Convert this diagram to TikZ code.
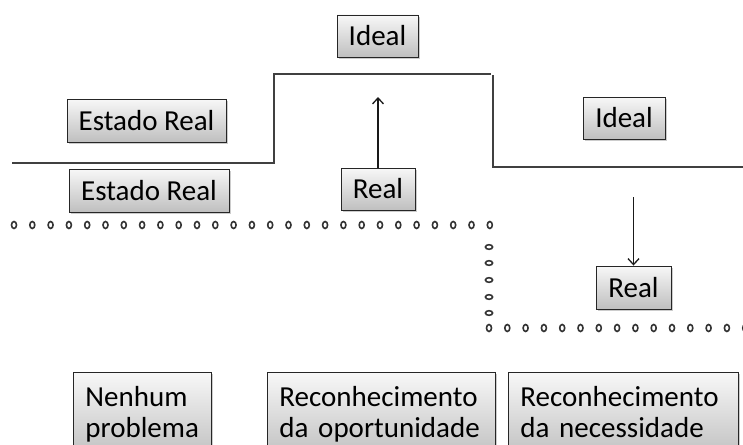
\documentclass[tikz,border=0pt]{standalone}
\usepackage{fontspec}
\setmainfont{Carlito}
\usetikzlibrary{arrows.meta,shadows}

\tikzset{
  caixa/.style={draw=black!85, line width=0.9pt, top color=gray!6, bottom color=gray!50,
    drop shadow={shadow xshift=1.6pt, shadow yshift=-1.6pt, opacity=0.4},
    inner sep=0pt, font=\fontsize{29}{31}\selectfont},
  caixa2/.style={caixa, anchor=north west, align=left, inner xsep=12pt, inner ysep=9pt,
    minimum height=86pt},
  degrau/.style={draw=black!75, line width=1.8pt},
  seta/.style={draw=black!90, line width=1.3pt, -{Straight Barb[length=6pt,width=11pt]}},
  bolinha/.style={draw=black!80, line width=1.6pt}
}

\begin{document}
\begin{tikzpicture}[x=1pt, y=-1pt]
    \useasboundingbox (0,0) rectangle (743,444);
    % linha de estado
    \draw[degrau]
      (12,163) -| (274,74) -- (491,74)
      (493,75) |- (743,167);
    % caixas
    \node[caixa, minimum width=81pt, minimum height=42pt]
      (idealtopo) at (377.5,36) {Ideal};
    \node[caixa, minimum width=159pt, minimum height=43pt]
      (estadocima) at (146.5,120.5) {Estado Real};
    \node[caixa, minimum width=160pt, minimum height=43pt]
      (estadobaixo) at (149,190.5) {Estado Real};
    \node[caixa, minimum width=74pt, minimum height=42pt]
      (realmeio) at (378,189) {Real};
    \node[caixa, minimum width=82pt, minimum height=42pt]
      (idealdir) at (624,118) {Ideal};
    \node[caixa, minimum width=75pt, minimum height=43pt]
      (realdir) at (633.5,287.5) {Real};
    \node[caixa2, text width=114pt]
      (nenhum) at (73,372) {\mbox{Nenhum}\strut\\\mbox{problema}\strut};
    \node[caixa2, text width=204pt]
      (oportun) at (267,372) {\mbox{Reconhecimento}\strut\\\mbox{da oportunidade}\strut};
    \node[caixa2, text width=206pt]
      (necess) at (508,372) {\mbox{Reconhecimento}\strut\\\mbox{da necessidade}\strut};
    % setas
    \coordinate (sobe) at (378,97);
    \coordinate (desce) at (633.5,197);
    \draw[seta] (realmeio) -- (sobe);
    \draw[seta] (desce) -- (realdir);
    % pontilhado
    \foreach \i in {0,...,26}
      \draw[bolinha] (14+\i*18.3,225) ellipse [x radius=2.5pt, y radius=3.5pt];
    \foreach \y in {247,263,280,297,313}
      \draw[bolinha] (489,\y) ellipse [x radius=3.6pt, y radius=2.3pt];
    \foreach \i in {0,...,14}
      \draw[bolinha] (489+\i*18.3,328) ellipse [x radius=2.5pt, y radius=3.5pt];
  \end{tikzpicture}
\end{document}
